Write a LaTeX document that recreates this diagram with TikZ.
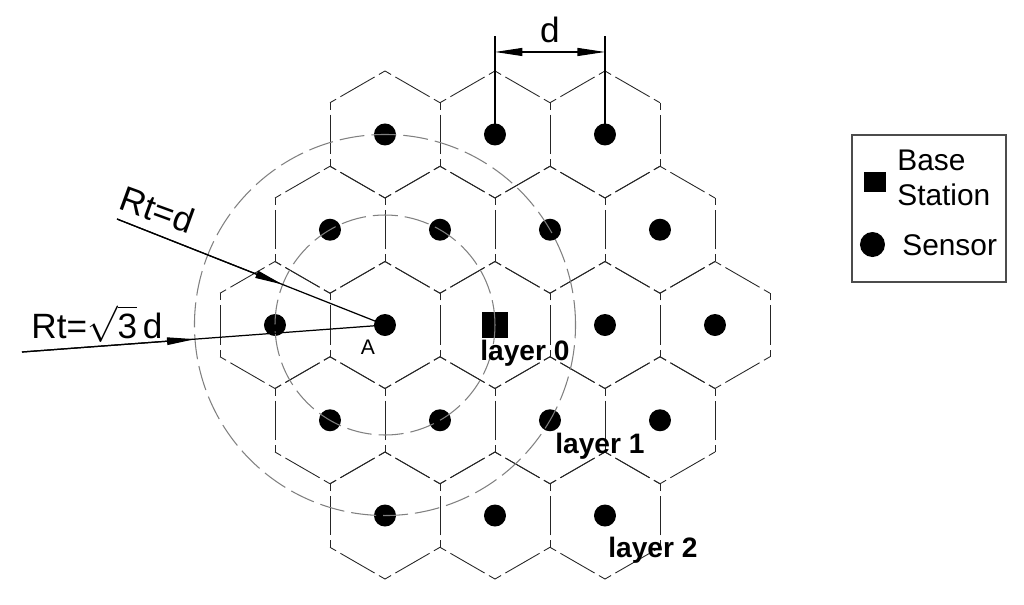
\documentclass[tikz,border=0pt]{standalone}
\usepackage{fontspec}
\setmainfont{Liberation Sans}
\usetikzlibrary{arrows.meta,calc}

\begin{document}
\begin{tikzpicture}[
  every node/.style={font=\fontsize{17}{20}\selectfont},
  hexline/.style={draw=black!85, line width=0.5pt,
    dash pattern=on 0.14cm off 0.1cm on 0.79cm off 0.1cm on 0.14cm off 1cm},
  ringline/.style={draw=black!50, line width=0.6pt,
    dash pattern=on 0.5cm off 0.14cm},
  sensor/.style={circle, fill=black, inner sep=0pt, minimum size=0.44cm},
  basest/.style={rectangle, fill=black, inner sep=0pt, minimum size=0.52cm},
  thinline/.style={line width=0.6pt},
  rtline/.style={line width=0.7pt},
  tip/.style={-{Triangle[length=0.56cm,width=0.15cm]}},
  biglbl/.style={font=\fontsize{20}{24}\selectfont},
  laylbl/.style={anchor=base west, inner sep=0pt,
    font=\fontsize{16}{19}\selectfont\bfseries},
]

\useasboundingbox (-9.9,-5.58) rectangle (10.58,6.5);

% ============================================================
% GRID
% d = sensor spacing, cells are pointy-top hexagons
% rows r = -2..2 (top to bottom), q runs along a row
% ============================================================
\def\dd{2.2}                              % d (cm)
\pgfmathsetmacro{\hr}{\dd/sqrt(3)}        % hexagon radius
\pgfmathsetmacro{\rowh}{\dd*sqrt(3)/2}    % row height
\pgfmathsetmacro{\rtwo}{\dd*sqrt(3)}      % outer radius

% hexagon cells
\foreach \r/\qmin/\qmax in {-2/0/2, -1/-1/2, 0/-2/2, 1/-2/1, 2/-2/0}{
  \foreach \q in {\qmin,...,\qmax}{
    \pgfmathsetmacro{\cx}{\dd*(\q+0.5*\r)}
    \pgfmathsetmacro{\cy}{-\r*\rowh}
    \foreach \k in {0,...,5}{
      \draw[hexline]
        ([shift={(30+60*\k:\hr)}]\cx,\cy) -- ([shift={(90+60*\k:\hr)}]\cx,\cy);
    }
  }
}

% sensors (every cell but the centre one)
\foreach \r/\qmin/\qmax in {-2/0/2, -1/-1/2, 0/-2/2, 1/-2/1, 2/-2/0}{
  \foreach \q in {\qmin,...,\qmax}{
    \pgfmathsetmacro{\cx}{\dd*(\q+0.5*\r)}
    \pgfmathsetmacro{\cy}{-\r*\rowh}
    \ifnum\q=0 \ifnum\r=0 \else
      \node[sensor] (s\q\r) at (\cx,\cy) {};
    \fi \else
      \node[sensor] (s\q\r) at (\cx,\cy) {};
    \fi
  }
}

% base station
\node[basest] (bs) at (0,0) {};

% ============================================================
% RANGES AROUND A
% ============================================================
\draw[ringline] (s-10.center) circle (\dd);
\draw[ringline] (s-10.center) circle (\rtwo);

\coordinate (rtA) at (-7.56,2.12);
\coordinate (rtB) at (-9.46,-0.54);
\draw[rtline] (rtA) -- (s-10.center);
\draw[rtline, tip] (rtA) -- ($(s-10.center)!\dd cm!(rtA)$);
\draw[rtline] (rtB) -- (s-10.center);
\draw[rtline, tip] (rtB) -- ($(s-10.center)!\rtwo cm!(rtB)$);

\node[biglbl, rotate=-20] (rtAlbl) at (-6.75,2.3) {Rt=d};
\node[biglbl, anchor=base] (rtBlbl) at (-7.96,-0.26) {Rt=$\sqrt{\mbox{3}}$\,d};
\node[font=\fontsize{12}{14}\selectfont] (Albl) at (-2.54,-0.44) {A};

% ============================================================
% DIMENSION d
% ============================================================
\coordinate (e1) at ($(s1-2.center)+(0,1.97)$);
\coordinate (e2) at ($(s2-2.center)+(0,1.97)$);
\coordinate (dl) at ($(s1-2.center)+(0,1.65)$);
\coordinate (dr) at ($(s2-2.center)+(0,1.65)$);
\draw[thinline] (s1-2.center) -- (e1);
\draw[thinline] (s2-2.center) -- (e2);
\draw[thinline, {Triangle[length=0.55cm,width=0.16cm]}-{Triangle[length=0.55cm,width=0.16cm]}]
  (dl) -- (dr);
\node[biglbl] (dlbl) at (1.1,5.9) {d};

% ============================================================
% LAYERS
% ============================================================
\node[laylbl] (lay0) at (-0.3,-0.7) {layer 0};
\node[laylbl] (lay1) at (1.2,-2.56) {layer 1};
\node[laylbl] (lay2) at (2.26,-4.64) {layer 2};

% ============================================================
% LEGEND
% ============================================================
\draw[thinline, draw=black!70] (7.14,0.86) rectangle (10.22,3.8);
\node[basest, minimum width=0.44cm, minimum height=0.4cm] (legbs) at (7.61,2.87) {};
\node[anchor=west, align=left, inner sep=0pt] (legbstxt) at (8.04,2.94) {Base\\Station};
\node[sensor, minimum size=0.5cm] (legsn) at (7.55,1.61) {};
\node[anchor=west, inner sep=0pt] (legsntxt) at (8.14,1.6) {Sensor};

\end{tikzpicture}
\end{document}
